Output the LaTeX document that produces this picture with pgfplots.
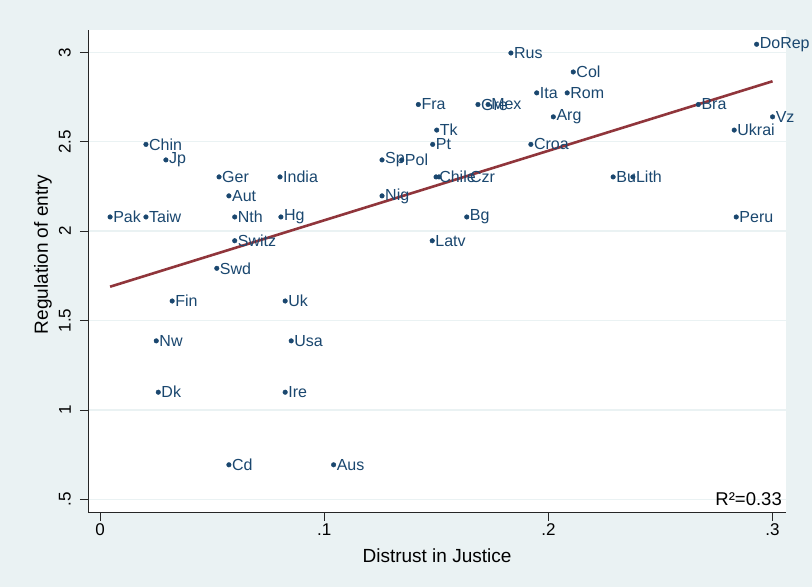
\documentclass[border=0pt]{standalone}
\usepackage{fontspec}
\setmainfont{Liberation Sans}
\usepackage{pgfplots}
\pgfplotsset{compat=1.18}
\definecolor{stbg}{HTML}{EAF2F3}
\definecolor{stnavy}{HTML}{1A476F}
\definecolor{stred}{HTML}{90353B}
\pgfplotstableread{
x y label
0.2929 3.045 DoRep
0.1833 2.996 Rus
0.2111 2.890 Col
0.1948 2.773 Ita
0.2084 2.773 Rom
0.1420 2.708 Fra
0.1686 2.708 Gre
0.1731 2.708 Mex
0.2669 2.708 Bra
0.2022 2.639 Arg
0.3000 2.639 Vz
0.1502 2.565 Tk
0.2829 2.565 Ukrai
0.0205 2.485 Chin
0.1484 2.485 Pt
0.1922 2.485 Croa
0.0294 2.398 Jp
0.1258 2.398 Sp
0.1346 2.398 Pol
0.0531 2.303 Ger
0.0803 2.303 India
0.1499 2.303 Chile
0.2289 2.303 Bu
0.2377 2.303 Lith
0.0575 2.197 Aut
0.1258 2.197 Nig
0.0045 2.079 Pak
0.0205 2.079 Taiw
0.0601 2.079 Nth
0.0807 2.079 Hg
0.1636 2.079 Bg
0.2838 2.079 Peru
0.0601 1.946 Switz
0.1482 1.946 Latv
0.0521 1.792 Swd
0.0322 1.609 Fin
0.0826 1.609 Uk
0.0251 1.386 Nw
0.0853 1.386 Usa
0.0260 1.099 Dk
0.0826 1.099 Ire
0.0575 0.693 Cd
0.1042 0.693 Aus
}\maindata
\pgfplotstableread{
x y label
0.1512 2.303 Czr
}\czrdata
\begin{document}
\begin{tikzpicture}[x=1pt,y=1pt]
\fill[stbg] (0,0) rectangle (812,587);
\useasboundingbox (0,0) rectangle (812,587);
\begin{axis}[
  at={(88pt,74.5pt)}, anchor=south west,
  scale only axis, width=698pt, height=482.5pt,
  xmin=-0.00535, xmax=0.3060, ymin=0.4262, ymax=3.1247,
  axis x line*=bottom, axis y line*=left,
  axis line style={-, black!85, line width=0.8pt},
  axis background/.style={fill=white},
  xtick={0,0.1,0.2,0.3}, xticklabels={0,.1,.2,.3},
  ytick={0.5,1,1.5,2,2.5,3}, yticklabels={.5,1,1.5,2,2.5,3},
  tick align=outside, major tick length=8pt,
  tick style={black!85, line width=0.8pt},
  minor tick num=0,
  ymajorgrids, grid style={stbg, line width=1.3pt},
  xticklabel style={font=\fontsize{17}{17}\selectfont, anchor=north, inner sep=0pt, yshift=-3pt},
  yticklabel style={font=\fontsize{17}{17}\selectfont, rotate=90, anchor=south, inner sep=0pt, yshift=9pt},
  xlabel={Distrust in Justice}, ylabel={Regulation of entry},
  xlabel style={font=\fontsize{19}{19}\selectfont, at={(rel axis cs:0.5,-0.0892)}, anchor=center},
  ylabel style={font=\fontsize{19}{19}\selectfont, at={(rel axis cs:-0.0645,0.535)}, anchor=center, rotate=0},
  clip=false,
]
\addplot[only marks, mark=*, mark size=2.3pt, stnavy,
  nodes near coords, point meta=explicit symbolic,
  nodes near coords style={anchor=west, inner sep=0pt, xshift=3pt, text=stnavy, font=\fontsize{16}{16}\selectfont}]
  table[x=x, y=y, meta=label] {\maindata};
\addplot[only marks, mark=*, mark size=2.3pt, stnavy,
  nodes near coords, point meta=explicit symbolic,
  nodes near coords style={anchor=west, inner sep=0pt, xshift=31pt, text=stnavy, font=\fontsize{16}{16}\selectfont}]
  table[x=x, y=y, meta=label] {\czrdata};
\addplot[stred, line width=2.6pt] coordinates {(0.0045,1.689) (0.3000,2.838)};
\node[anchor=base east, inner sep=0pt, font=\fontsize{18.5}{18.5}\selectfont] at (rel axis cs:1,0) [xshift=-4pt, yshift=7pt] {R²=0.33};
\end{axis}
\end{tikzpicture}
\end{document}
